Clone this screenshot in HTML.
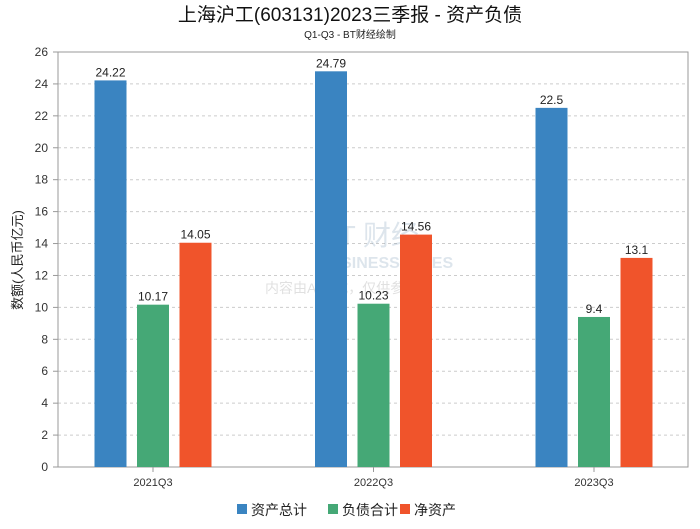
<!DOCTYPE html>
<html><head><meta charset="utf-8"><style>
body{margin:0;background:#fff;font-family:"Liberation Sans","Noto Sans CJK SC",sans-serif;}
svg text{font-family:"Liberation Sans","Noto Sans CJK SC",sans-serif;}
</style></head><body>
<svg id="c" width="700" height="524" xmlns="http://www.w3.org/2000/svg">
<text x="350" y="21" text-anchor="middle" font-size="19" fill="#111">上海沪工(603131)2023三季报 - 资产负债</text>
<text x="350" y="38" text-anchor="middle" font-size="10" fill="#222">Q1-Q3 - BT财经绘制</text>
<g id="grid"></g>
<rect x="58" y="52" width="630" height="415" fill="none" stroke="#999"/>
<g opacity="0.25">
<text x="320" y="245" font-size="28" fill="#7a9ab8" font-family="Liberation Serif,serif">BT 财经</text>
<text x="318" y="268" font-size="16" fill="#7a9ab8" font-weight="bold" font-family="Liberation Serif,serif">BUSINESS TIMES</text>
<text x="265" y="293" font-size="14" fill="#888">内容由AI生成，仅供参考</text>
</g>
<g id="bars"></g>
<text transform="translate(22,260) rotate(-90)" text-anchor="middle" font-size="13" fill="#222">数额(人民币亿元)</text>
<g>
<rect x="237" y="504" width="10" height="10" fill="#3a84c1"/>
<text x="251" y="515" font-size="14" fill="#222">资产总计</text>
<rect x="328" y="504" width="10" height="10" fill="#45a876"/>
<text x="342" y="515" font-size="14" fill="#222">负债合计</text>
<rect x="400" y="504" width="10" height="10" fill="#f0542b"/>
<text x="414" y="515" font-size="14" fill="#222">净资产</text>
</g>
</svg>
<script>
const categories=["2021Q3","2022Q3","2023Q3"];
const totalAssets=[24.22,24.79,22.5];
const totalLiabilities=[10.17,10.23,9.4];
const netAssets=[14.05,14.56,13.1];
const yTicks=[0,2,4,6,8,10,12,14,16,18,20,22,24,26];
const NS="http://www.w3.org/2000/svg";
const y=v=>467-v*(415/26);
const cx=i=>153+i*220.5;
const grid=document.getElementById('grid'),bars=document.getElementById('bars');
function mk(tag,a,p){const e=document.createElementNS(NS,tag);for(const k in a)e.setAttribute(k,a[k]);p.appendChild(e);return e;}
yTicks.forEach(t=>{
 const l=mk('line',{x1:58,x2:688,y1:y(t),y2:y(t),stroke:'#ccc','stroke-dasharray':'3,3'},grid);
 
 
 const tk=mk('line',{x1:53,x2:58,y1:y(t),y2:y(t),stroke:'#999'},grid);
 
 
 const tx=mk('text',{x:48,y:y(t)+4,'text-anchor':'end','font-size':12,fill:'#333'},grid);
 tx.textContent=t;
 
 
});
const series=[[totalAssets,'#3a84c1','total-assets'],[totalLiabilities,'#45a876','total-liabilities'],[netAssets,'#f0542b','net-assets']];
categories.forEach((c,i)=>{
 const tk=mk('line',{x1:cx(i),x2:cx(i),y1:467,y2:472,stroke:'#999'},grid);
 
 
 const tx=mk('text',{x:cx(i),y:486,'text-anchor':'middle','font-size':11,fill:'#333'},grid);
 tx.textContent=c;
 
 
 series.forEach((s,j)=>{
  const v=s[0][i],x=cx(i)+(j-1)*42.5-16;
  const r=mk('rect',{x:x,y:y(v),width:32,height:467-y(v),fill:s[1]},bars);
  
  
  const t=mk('text',{x:x+16,y:y(v)-4,'text-anchor':'middle','font-size':12,fill:'#222'},bars);
  t.textContent=v;
  
  
 });
});
</script>
</body></html>
